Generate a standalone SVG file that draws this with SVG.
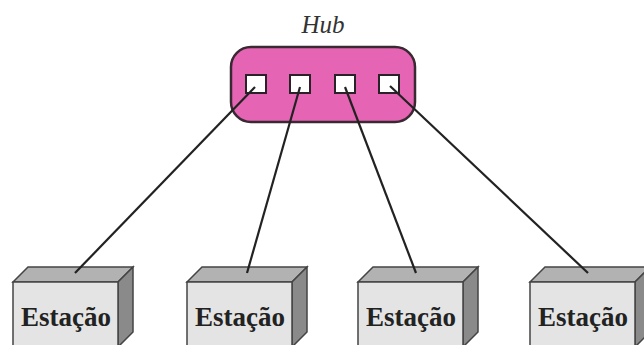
<svg xmlns="http://www.w3.org/2000/svg" width="644" height="345" viewBox="0 0 644 345">
  <style>
    .hub { fill: #e664b4; stroke: #3a2833; stroke-width: 2.5; }
    .port { fill: #ffffff; stroke: #2a2228; stroke-width: 2; }
    .front { fill: #e4e4e4; stroke: #444; stroke-width: 1.5; }
    .top { fill: #b2b2b2; stroke: #444; stroke-width: 1.5; }
    .side { fill: #8a8a8a; stroke: #444; stroke-width: 1.5; }
    .label { font-family: "Liberation Serif", "Times New Roman", serif; font-weight: bold; font-size: 27px; fill: #222; text-anchor: middle; }
    .title { font-family: "Liberation Serif", "Times New Roman", serif; font-style: italic; font-size: 25px; fill: #333; text-anchor: middle; }
    .link { stroke: #222; stroke-width: 2.2; fill: none; }
  </style>
  <defs>
    <!-- station box: front face 105 wide, 15px depth -->
    <g id="box">
      <polygon class="top" points="0,15 15,0 120,0 105,15"/>
      <polygon class="side" points="105,15 120,0 120,65 105,80"/>
      <rect class="front" x="0" y="15" width="105" height="70"/>
    </g>
  </defs>

  <g id="hub">
    <text class="title" x="323" y="33">Hub</text>
    <rect class="hub" x="231" y="47" width="184" height="75" rx="20" ry="20"/>
    <rect class="port" x="246" y="75" width="20" height="18"/>
    <rect class="port" x="290" y="75" width="20" height="18"/>
    <rect class="port" x="335" y="75" width="20" height="18"/>
    <rect class="port" x="379" y="75" width="20" height="18"/>
  </g>

  <g id="station1">
    <use href="#box" x="13" y="267"/>
    <text class="label" x="66" y="326">Estação</text>
  </g>
  <g id="station2">
    <use href="#box" x="187" y="267"/>
    <text class="label" x="240" y="326">Estação</text>
  </g>
  <g id="station3">
    <use href="#box" x="358" y="267"/>
    <text class="label" x="411" y="326">Estação</text>
  </g>
  <g id="station4">
    <use href="#box" x="530" y="267"/>
    <text class="label" x="583" y="326">Estação</text>
  </g>

  <g id="connectors">
    <line class="link" x1="255" y1="87" x2="75" y2="273"/>
    <line class="link" x1="300" y1="87" x2="247" y2="273"/>
    <line class="link" x1="345" y1="87" x2="416" y2="273"/>
    <line class="link" x1="390" y1="86" x2="588" y2="273"/>
  </g>
</svg>
